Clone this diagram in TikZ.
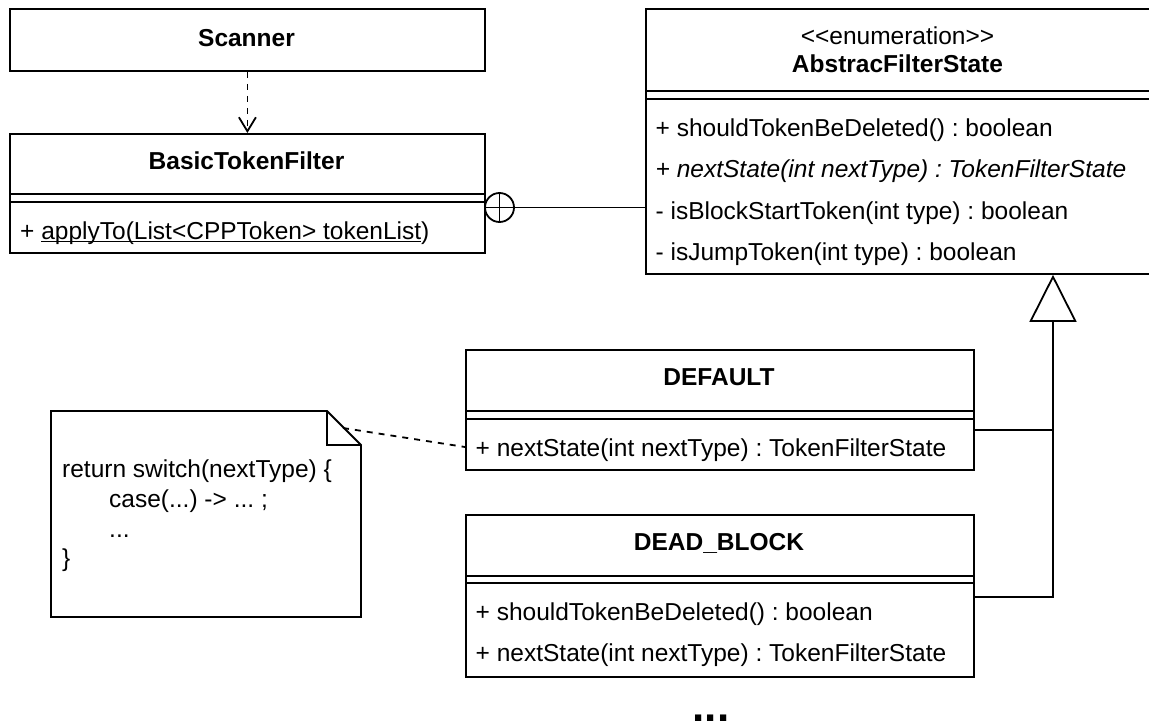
\documentclass[tikz,border=0pt]{standalone}
\usepackage{fontspec}
\setmainfont{Liberation Sans}
\usetikzlibrary{arrows.meta}
\newcommand\myul[1]{\setbox0=\hbox{#1}\rlap{\rule[-3.4pt]{\wd0}{1.4pt}}\box0}
\frenchspacing
\begin{document}
\begin{tikzpicture}[x=1pt,y=-1pt,
  umlbox/.style={draw, line width=1.8pt, rectangle, inner sep=0pt, anchor=north west},
  sep/.style={line width=1.8pt},
  conn/.style={line width=1.8pt},
  txt/.style={font=\fontsize{24.5}{29}\selectfont, inner sep=0pt},
  ttl/.style={txt, font=\fontsize{24.5}{29}\selectfont\bfseries, anchor=base},
  row/.style={txt, anchor=base west},
  dashline/.style={line width=1.8pt, dash pattern=on 6pt off 6pt}
]
\useasboundingbox (0,0) rectangle (1149,725);

% Scanner
\node[umlbox, minimum width=475pt, minimum height=62pt] (scanner) at (9,8) {};
\node[ttl] (scannerT) at (246.5,46.5) {Scanner};

% BasicTokenFilter
\node[umlbox, minimum width=475pt, minimum height=119pt] (btf) at (9,133) {};
\draw[sep] (btf.west |- 0,194) -- (btf.east |- 0,194);
\draw[sep] (btf.west |- 0,202) -- (btf.east |- 0,202);
\node[ttl] (btfT) at (246.5,169.5) {BasicTokenFilter};
\node[row] (btfR1) at (20,239) {+ \myul{applyTo(List<CPPToken> tokenList})};

% AbstracFilterState
\node[umlbox, minimum width=505pt, minimum height=265pt] (abs) at (645,8) {};
\draw[sep] (abs.west |- 0,91) -- (abs.east |- 0,91);
\draw[sep] (abs.west |- 0,99) -- (abs.east |- 0,99);
\node[txt, anchor=base] (absS) at (897.5,45) {<\kern0pt<enumeration>\kern0pt>};
\node[ttl] (absT) at (897.5,73) {AbstracFilterState};
\node[row] (absR1) at (655.5,136) {+ shouldTokenBeDeleted() : boolean};
\node[row] (absR2) at (655.5,177.5) {\itshape + nextState(int nextType) : TokenFilterState};
\node[row] (absR3) at (655.5,219) {- isBlockStartToken(int type) : boolean};
\node[row] (absR4) at (655.5,260.5) {- isJumpToken(int type) : boolean};

% DEFAULT
\node[umlbox, minimum width=508pt, minimum height=120pt] (def) at (465,349) {};
\draw[sep] (def.west |- 0,411) -- (def.east |- 0,411);
\draw[sep] (def.west |- 0,419) -- (def.east |- 0,419);
\node[ttl] (defT) at (719,385) {DEFAULT};
\node[row] (defR1) at (475.5,456) {+ nextState(int nextType) : TokenFilterState};

% DEAD_BLOCK
\node[umlbox, minimum width=508pt, minimum height=162pt] (dead) at (465,514) {};
\draw[sep] (dead.west |- 0,576) -- (dead.east |- 0,576);
\draw[sep] (dead.west |- 0,583) -- (dead.east |- 0,583);
\node[ttl] (deadT) at (719,550) {DEAD\_BLOCK};
\node[row] (deadR1) at (475.5,620) {+ shouldTokenBeDeleted() : boolean};
\node[row] (deadR2) at (475.5,661.5) {+ nextState(int nextType) : TokenFilterState};

% Note
\coordinate (nNW) at (51,411);
\coordinate (nSE) at (361,617);
\draw[sep, line join=miter] (nNW) -- (327,411) -- (361,445) -- (nSE) -- (51,617) -- cycle;
\draw[sep] (327,411) -- (327,445) -- (361,445);
\node[row] (n1) at (62,477) {return switch(nextType) \{};
\node[row] (n2) at (109,507) {case(...) -> ... ;};
\node[row] (n3) at (109,537) {...};
\node[row] (n4) at (62,566) {\}};
\coordinate (nfold) at (343,428);
\coordinate (deflink) at (465,447);
\draw[dashline] (nfold) -- (deflink);

% Dependency Scanner -> BasicTokenFilter
\draw[dashline, -{Straight Barb[length=14pt,width=17pt,line width=1.8pt]}] (scanner.south) -- (btf.north);

% Nesting
\node[draw, circle, line width=1.8pt, minimum size=29pt, inner sep=0pt] (nest) at (499.5,207.5) {};
\draw[sep] (nest.north) -- (nest.south);
\draw[sep] (nest.west) -- (nest.east);
\draw[conn] (nest.east) -- (abs.west |- nest.east);

% Generalization
\coordinate (trib) at (1053,321);
\draw[conn] (def.east |- 0,430) -- (trib |- 0,430);
\draw[conn, -{Triangle[open,length=47pt,width=47pt,line width=1.8pt]}] (dead.east |- 0,597) -| (abs.south -| trib);

% ellipsis
\node[txt, font=\fontsize{44}{48}\selectfont\bfseries, anchor=base] (more) at (711,721) {...};
\end{tikzpicture}
\end{document}
